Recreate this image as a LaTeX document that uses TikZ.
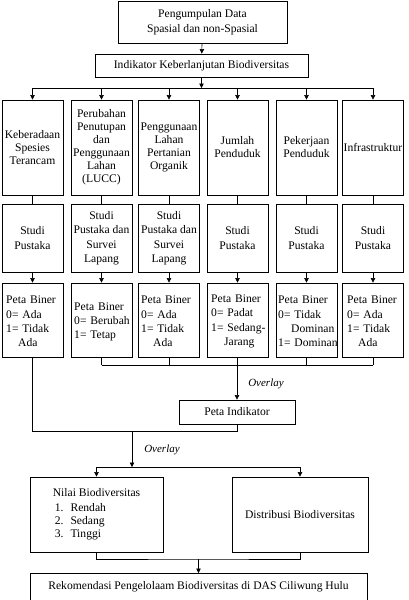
\documentclass[tikz,border=0pt]{standalone}
\usepackage{fontspec}
\setmainfont{Liberation Serif}
\usetikzlibrary{arrows.meta}
\hyphenpenalty=10000
\exhyphenpenalty=10000
\hbadness=10000
\hfuzz=20pt
\tikzset{
  box/.style={draw, line width=0.8pt, inner sep=0pt, align=center, font=\fontsize{11.6}{13}\selectfont},
  rowone/.style={box, minimum width=61pt, minimum height=95pt},
  rowtwo/.style={box, minimum width=61pt, minimum height=68pt, font=\fontsize{11.6}{14.5}\selectfont},
  rowthree/.style={box, minimum width=61pt, minimum height=74pt},
  bintext/.style={align=left, text width=62pt, inner sep=0pt, font=\fontsize{11.6}{14.3}\selectfont},
  conn/.style={line width=0.6pt},
  arr/.style={conn, -{Triangle[length=4.5pt, width=4.5pt]}},
  lbl/.style={font=\fontsize{11}{12}\selectfont\itshape, inner sep=0pt}
}
\begin{document}
\begin{tikzpicture}[x=1pt, y=-1pt]
\useasboundingbox (0,0) rectangle (408,600);
% top
\node (top) [box, minimum width=169pt, minimum height=42pt, font=\fontsize{11.6}{15}\selectfont] at (202.5,22) {Pengumpulan Data\\Spasial dan non-Spasial};
\node (ind) [box, minimum width=213pt, minimum height=23pt] at (201.5,65.5) {Indikator Keberlanjutan Biodiversitas};
% row 1
\node (a1) [rowone] at (32.5,147.5) {Keberadaan\\Spesies\\Terancam};
\node (a2) [rowone] at (101.5,147.5) {Perubahan\\Penutupan\\dan\\Penggunaan\\Lahan\\(LUCC)};
\node (a3) [rowone] at (169,147.5) {Penggunaan\\Lahan\\Pertanian\\Organik};
\node (a4) [rowone] at (237.5,147.5) {Jumlah\\Penduduk};
\node (a5) [rowone] at (306.5,147.5) {Pekerjaan\\Penduduk};
\node (a6) [rowone] at (373,147.5) {Infrastruktur};
% row 2
\node (s1) [rowtwo] at (32.5,238) {Studi\\Pustaka};
\node (s2) [rowtwo] at (101.5,238) {Studi\\Pustaka dan\\Survei\\Lapang};
\node (s3) [rowtwo] at (169,238) {Studi\\Pustaka dan\\Survei\\Lapang};
\node (s4) [rowtwo] at (237.5,238) {Studi\\Pustaka};
\node (s5) [rowtwo] at (306.5,238) {Studi\\Pustaka};
\node (s6) [rowtwo] at (373,238) {Studi\\Pustaka};
% row 3
\node (p1) [rowthree] at (32.5,320) {};
\node (p2) [rowthree] at (101.5,320) {};
\node (p3) [rowthree] at (169,320) {};
\node (p4) [rowthree] at (237.5,320) {};
\node (p5) [rowthree] at (306.5,320) {};
\node (p6) [rowthree] at (373,320) {};
\node (t1) [bintext, anchor=west] at (6,321.5) {Peta Biner\\0= Ada\\1= Tidak\\\hspace*{12pt}Ada};
\node (t2) [bintext, anchor=west] at (74,322) {Peta Biner\\0= Berubah\\1= Tetap};
\node (t3) [bintext, anchor=west] at (141,321.5) {Peta Biner\\0= Ada\\1= Tidak\\\hspace*{12pt}Ada};
\node (t4) [bintext, anchor=west] at (211,321.5) {Peta Biner\\0= Padat\\1= Sedang-\\\hspace*{13pt}Jarang};
\node (t5) [bintext, anchor=west] at (278,321.5) {Peta Biner\\0= Tidak\\\hspace*{13pt}Dominan\\1= Dominan};
\node (t6) [bintext, anchor=west] at (347,321.5) {Peta Biner\\0= Ada\\1= Tidak\\\hspace*{11pt}Ada};
% lower part
\node (pind) [box, minimum width=116pt, minimum height=24pt] at (237,412) {Peta Indikator};
\node (nilai) [box, minimum width=133pt, minimum height=75pt, align=left] at (96.5,514.5)
  {Nilai Biodiversitas\\[2pt]\hspace*{2pt}1.\hspace{7pt}Rendah\\\hspace*{2pt}2.\hspace{7pt}Sedang\\\hspace*{2pt}3.\hspace{7pt}Tinggi};
\node (dist) [box, minimum width=136pt, minimum height=75pt] at (300,514.5) {Distribusi Biodiversitas};
\node (rek) [box, minimum width=337pt, minimum height=38pt, anchor=north] at (198.5,573) {};
\node (rekt) [box, draw=none] at (198.5,587) {Rekomendasi Pengelolaam Biodiversitas di DAS Ciliwung Hulu};
% connectors
\coordinate (bus1) at (201.5,88);
\draw[arr] (top) -- (ind);
\draw[arr] (ind) -- (bus1);
\draw[conn] (a1.north |- bus1) -- (a6.north |- bus1);
\foreach \i in {1,...,6} {
  \draw[arr] (a\i.north |- bus1) -- (a\i.north);
  \draw[conn] (a\i) -- (s\i);
  \draw[arr] (s\i) -- (p\i);
}
\coordinate (j1) at (237,365);
\foreach \i in {2,...,6} {\draw[conn] (p\i.south) -- (p\i.south |- j1);}
\draw[conn] (p2.south |- j1) -- (p6.south |- j1);
\draw[arr] (j1) -- (pind.north);
\node (ov1) [lbl] at (266,384) {Overlay};
\coordinate (j2) at (237,431);
\draw[conn] (p1.south) |- (j2) -- (pind.south);
\coordinate (j3) at (132,431);
\coordinate (j4) at (132,467);
\draw[arr] (j3) -- (j4);
\node (ov2) [lbl] at (162,450) {Overlay};
\draw[conn] (nilai.north |- j4) -- (dist.north |- j4);
\draw[arr] (nilai.north |- j4) -- (nilai.north);
\draw[arr] (dist.north |- j4) -- (dist.north);
\coordinate (j5) at (198.5,559);
\draw[conn] (nilai.south) |- (j5) -| (dist.south);
\draw[arr] (j5) -- (rek.north);
\end{tikzpicture}
\end{document}
